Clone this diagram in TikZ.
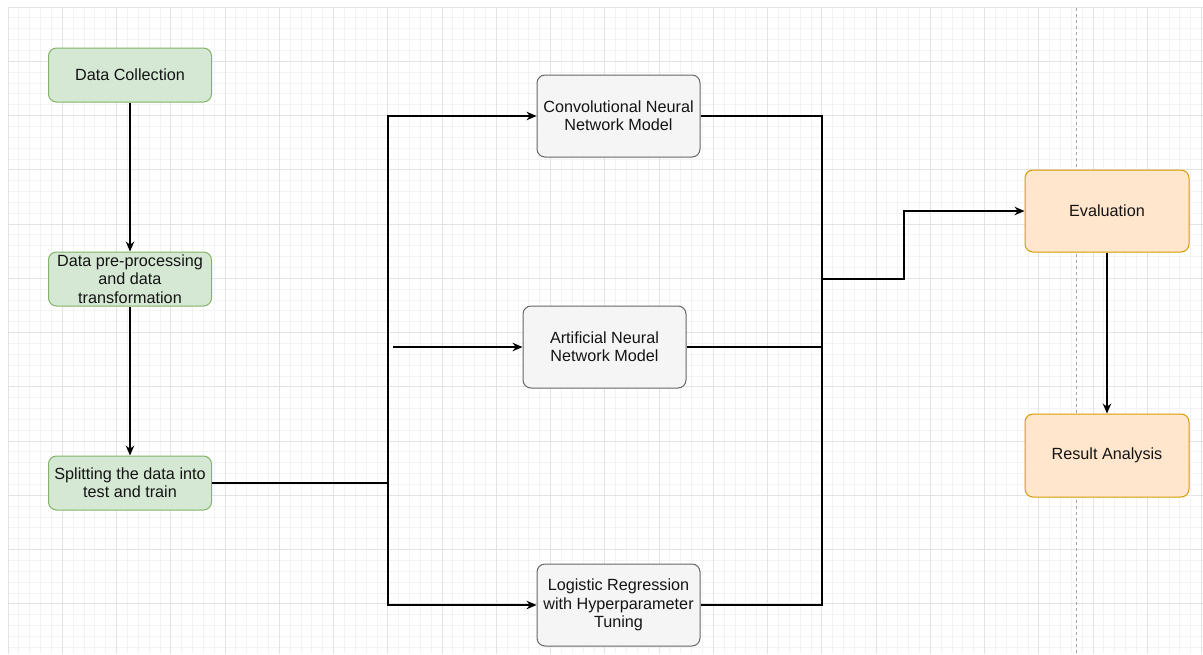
\documentclass[tikz,border=0pt]{standalone}
\usepackage{fontspec}
\setmainfont{Liberation Sans}
\usetikzlibrary{arrows.meta}
\definecolor{gfill}{HTML}{D5E8D4}
\definecolor{gline}{HTML}{82B366}
\definecolor{sfill}{HTML}{F5F5F5}
\definecolor{sline}{HTML}{666666}
\definecolor{ofill}{HTML}{FFE6CC}
\definecolor{oline}{HTML}{D79B00}
\definecolor{minorgrid}{HTML}{F3F3F3}
\definecolor{majorgrid}{HTML}{E3E3E3}
\definecolor{txt}{HTML}{141414}
\tikzset{
  basebox/.style={rounded corners=8pt, line width=1pt, align=center, inner sep=0pt,
    text=txt, font=\fontsize{16.2}{18.4}\selectfont},
  greenbox/.style={basebox, fill=gfill, draw=gline, minimum width=163pt, minimum height=54pt},
  greybox/.style={basebox, fill=sfill, draw=sline, minimum width=163pt, minimum height=82pt},
  orangebox/.style={basebox, fill=ofill, draw=oline, minimum width=164pt, minimum height=82pt},
  conn/.style={line width=1.2pt, draw=black},
  arr/.style={conn, -{Stealth[length=10pt,width=8.5pt]}},
}
\begin{document}
\begin{tikzpicture}[x=1pt,y=-1pt]
\useasboundingbox (0,0) rectangle (1203,654);
\fill[white] (0,0) rectangle (1203,654);
% grid
\foreach \i in {0,...,110} {\draw[minorgrid, line width=0.8pt] ({8+10.85*\i},7) -- ({8+10.85*\i},654);}
\foreach \i in {0,...,59} {\draw[minorgrid, line width=0.8pt] (8,{7+10.85*\i}) -- (1203,{7+10.85*\i});}
\foreach \i in {0,...,22} {\draw[majorgrid, line width=1pt] ({8+54.25*\i},7) -- ({8+54.25*\i},654);}
\foreach \i in {0,...,11} {\draw[majorgrid, line width=1pt] (8,{7+54.25*\i}) -- (1203,{7+54.25*\i});}
\draw[gray!70, line width=1pt, dash pattern=on 3pt off 3pt] (1076,8) -- (1076,654);

% nodes
\node[greenbox] (dc) at (130,75) {Data Collection};
\node[greenbox] (dp) at (130,279) {Data pre-processing\\and data\\transformation};
\node[greenbox] (sp) at (130,483) {Splitting the data into\\test and train};
\node[greybox] (cnn) at (618.5,116) {Convolutional Neural\\Network Model};
\node[greybox] (ann) at (604.5,347) {Artificial Neural\\Network Model};
\node[greybox] (lr) at (618.5,605) {Logistic Regression\\with Hyperparameter\\Tuning};
\node[orangebox] (ev) at (1107,211) {Evaluation};
\node[orangebox, minimum height=83pt] (ra) at (1107,455.5) {Result Analysis};

\coordinate (j1) at (388,483);
\coordinate (a0) at (393,347);
\coordinate (j2) at (822,279);
\coordinate (a1) at (822,347);

% connectors
\draw[arr] (dc) -- (dp);
\draw[arr] (dp) -- (sp);
\draw[conn] (sp.east) -- (j1);
\draw[arr] (j1) |- (cnn.west);
\draw[arr] (j1) |- (lr.west);
\draw[arr] (a0) -- (ann.west);
\draw[conn] (cnn.east) -| (j2);
\draw[conn] (lr.east) -| (j2);
\draw[conn] (ann.east) -- (a1);
\draw[arr] (j2) -- ++(82,0) |- (ev.west);
\draw[arr] (ev) -- (ra);
\end{tikzpicture}
\end{document}
